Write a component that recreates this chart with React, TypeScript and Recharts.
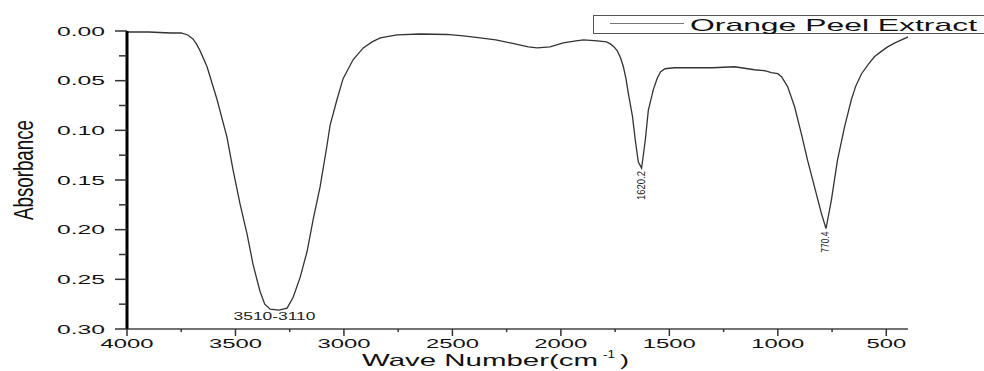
import React from 'react';
import { LineChart, Line, XAxis, YAxis, Legend, ReferenceDot } from 'recharts';

const FONT = '"Liberation Sans", Arial, sans-serif';

const seriesName = 'Orange Peel Extract';

const waveNumbers = [
  4000, 3900, 3800, 3750, 3720, 3696, 3680, 3663, 3631, 3585, 3539, 3511, 3479, 3446, 3419, 3387,
  3365, 3340, 3300, 3262, 3234, 3202, 3170, 3142, 3110, 3078, 3064, 3032, 3004, 2958, 2911, 2870,
  2833, 2755, 2649, 2524, 2450, 2372, 2300, 2233, 2150, 2109, 2050, 1989, 1930, 1896, 1832, 1790,
  1772, 1755, 1740, 1725, 1712, 1700, 1689, 1670, 1657, 1643, 1628, 1611, 1597, 1574, 1555, 1540,
  1520, 1477, 1400, 1300, 1200, 1108, 1060, 1030, 1000, 983, 955, 923, 892, 863, 831, 800, 778,
  753, 725, 693, 661, 640, 614, 585, 555, 520, 494, 460, 430, 400,
];

const absorbance = [
  0.001, 0.001, 0.002, 0.002, 0.004, 0.008, 0.013, 0.02, 0.036, 0.069, 0.107, 0.14, 0.174, 0.205, 0.235, 0.262,
  0.275, 0.28, 0.281, 0.279, 0.268, 0.248, 0.222, 0.19, 0.157, 0.115, 0.095, 0.069, 0.048, 0.029, 0.017, 0.011,
  0.007, 0.004, 0.003, 0.0035, 0.005, 0.007, 0.009, 0.012, 0.016, 0.017, 0.016, 0.012, 0.01, 0.009, 0.01, 0.011,
  0.013, 0.016, 0.02, 0.027, 0.036, 0.048, 0.063, 0.086, 0.11, 0.132, 0.138, 0.11, 0.08, 0.059, 0.047, 0.041,
  0.038, 0.037, 0.037, 0.037, 0.036, 0.039, 0.04, 0.042, 0.043, 0.046, 0.056, 0.076, 0.103, 0.13, 0.157, 0.183, 0.199,
  0.17, 0.13, 0.097, 0.069, 0.055, 0.043, 0.034, 0.026, 0.02, 0.016, 0.012, 0.009, 0.006,
];

const xMajorTicks = [4000, 3500, 3000, 2500, 2000, 1500, 1000, 500];
const xMinorTicks = [3750, 3250, 2750, 2250, 1750, 1250, 750];
const yMajorTicks = [0, 0.05, 0.1, 0.15, 0.2, 0.25, 0.3];
const yMinorTicks = [0.025, 0.075, 0.125, 0.175, 0.225, 0.275];

const peakLabels = ['3510-3110', '1620.2', '770.4'];
const peakWaveNumbers = [3320, 1628, 778];
const peakAbsorbance = [0.281, 0.138, 0.199];

const data = waveNumbers.map((wn, i) => ({ wn, abs: absorbance[i] }));
const xTicks = [...xMajorTicks, ...xMinorTicks].sort((a, b) => b - a);
const yTicks = [...yMajorTicks, ...yMinorTicks].sort((a, b) => a - b);

const XTick = (props: any) => {
  const { x, y, payload } = props;
  const v = payload.value;
  const major = xMajorTicks.includes(v);
  return (
    <g>
      <line x1={x} x2={x} y1={y} y2={y + (major ? 7 : 3)} stroke="#333" strokeWidth={1.5} />
      {major && (
        <text
          x={x}
          y={y + 19}
          textAnchor="middle"
          fontSize={13}
          fontFamily={FONT}
          fill="#111"
          textLength={String(v).length * 13.25}
          lengthAdjust="spacingAndGlyphs"
        >
          {v}
        </text>
      )}
    </g>
  );
};

const YTick = (props: any) => {
  const { x, y, payload } = props;
  const v = payload.value;
  const major = yMajorTicks.some((t) => Math.abs(t - v) < 1e-9);
  return (
    <g>
      <line x1={x - (major ? 12 : 8)} x2={x} y1={y} y2={y} stroke="#333" strokeWidth={1.5} />
      {major && (
        <text
          x={x - 22}
          y={y}
          dy="0.35em"
          textAnchor="end"
          fontSize={13}
          fontFamily={FONT}
          fill="#111"
          textLength={48}
          lengthAdjust="spacingAndGlyphs"
        >
          {v.toFixed(2)}
        </text>
      )}
    </g>
  );
};

const XLabel = (props: any) => {
  const vb = props.viewBox || { x: 127, y: 329, width: 781, height: 42 };
  const x0 = vb.x + 235;
  const base = vb.y + 37;
  return (
    <g fill="#111" fontFamily={FONT}>
      <text x={x0} y={base} fontSize={17} textLength={236} lengthAdjust="spacingAndGlyphs">
        Wave Number(cm
      </text>
      <text x={x0 + 241} y={base - 8} fontSize={10} textLength={12} lengthAdjust="spacingAndGlyphs">
        -1
      </text>
      <text x={x0 + 258} y={base} fontSize={17} textLength={9} lengthAdjust="spacingAndGlyphs">
        )
      </text>
    </g>
  );
};

const YLabel = (props: any) => {
  const vb = props.viewBox || { x: 0, y: 31, width: 127, height: 298 };
  const cx = vb.x + 33;
  const cy = vb.y + 139;
  return (
    <g transform={`translate(${cx},${cy}) rotate(-90)`}>
      <text
        x={0}
        y={0}
        textAnchor="middle"
        fontSize={28}
        fontFamily={FONT}
        fill="#111"
        textLength={100}
        lengthAdjust="spacingAndGlyphs"
      >
        Absorbance
      </text>
    </g>
  );
};

const PeakLabel = ({ viewBox, text, index }: any) => {
  if (!viewBox) return null;
  const cx = viewBox.x + (viewBox.width || 0) / 2;
  const cy = viewBox.y + (viewBox.height || 0) / 2;
  if (index === 0) {
    return (
      <text
        x={cx}
        y={cy + 10}
        textAnchor="middle"
        fontSize={10}
        fontFamily={FONT}
        fill="#222"
        textLength={82}
        lengthAdjust="spacingAndGlyphs"
      >
        {text}
      </text>
    );
  }
  return (
    <g transform={`translate(${cx},${cy + 3}) rotate(-90)`}>
      <text
        x={0}
        y={0}
        dy="0.35em"
        textAnchor="end"
        fontSize={10}
        fontFamily={FONT}
        fill="#222"
        textLength={index === 1 ? 29 : 21}
        lengthAdjust="spacingAndGlyphs"
      >
        {text}
      </text>
    </g>
  );
};

const LegendContent = (props: any) => {
  const label = (props.payload && props.payload[0] && props.payload[0].value) || seriesName;
  return (
    <svg width={391} height={19} style={{ display: 'block' }}>
      <rect x={0.5} y={0.5} width={400} height={18} fill="#fff" stroke="#555" strokeWidth={1} />
      <line x1={17} x2={91} y1={8.5} y2={8.5} stroke="#777" strokeWidth={1} />
      <text
        x={97}
        y={15.5}
        fontSize={17}
        fontFamily={FONT}
        fill="#111"
        textLength={287}
        lengthAdjust="spacingAndGlyphs"
      >
        {label}
      </text>
    </svg>
  );
};

export default function App() {
  return (
    <div style={{ position: 'absolute', left: 0, top: 0, width: 984, height: 371, background: '#fff' }}>
      <LineChart width={984} height={371} data={data} margin={{ top: 31, right: 76, bottom: 0, left: 0 }}>
        <XAxis
          dataKey="wn"
          type="number"
          domain={[400, 4000]}
          reversed
          allowDataOverflow
          ticks={xTicks}
          interval={0}
          tickSize={0}
          tickMargin={0}
          tickLine={false}
          tick={<XTick />}
          height={42}
          axisLine={{ stroke: '#444', strokeWidth: 1.5 }}
          label={<XLabel />}
        />
        <YAxis
          type="number"
          domain={[0, 0.3]}
          reversed
          allowDataOverflow
          ticks={yTicks}
          interval={0}
          tickSize={0}
          tickMargin={0}
          tickLine={false}
          tick={<YTick />}
          width={127}
          axisLine={{ stroke: '#000', strokeWidth: 3 }}
          label={<YLabel />}
        />
        <Legend
          layout="vertical"
          align="center"
          verticalAlign="middle"
          content={<LegendContent />}
          wrapperStyle={{ position: 'absolute', left: 593, top: 15, width: 391, height: 19 }}
        />
        <Line
          type="linear"
          dataKey="abs"
          name={seriesName}
          stroke="#333"
          strokeWidth={1.3}
          dot={false}
          activeDot={false}
          isAnimationActive={false}
        />
        {peakLabels.map((lab, i) => (
          <ReferenceDot
            key={lab}
            x={peakWaveNumbers[i]}
            y={peakAbsorbance[i]}
            r={0}
            fill="none"
            stroke="none"
            label={(p: any) => <PeakLabel viewBox={p.viewBox} text={lab} index={i} />}
          />
        ))}
      </LineChart>
    </div>
  );
}
